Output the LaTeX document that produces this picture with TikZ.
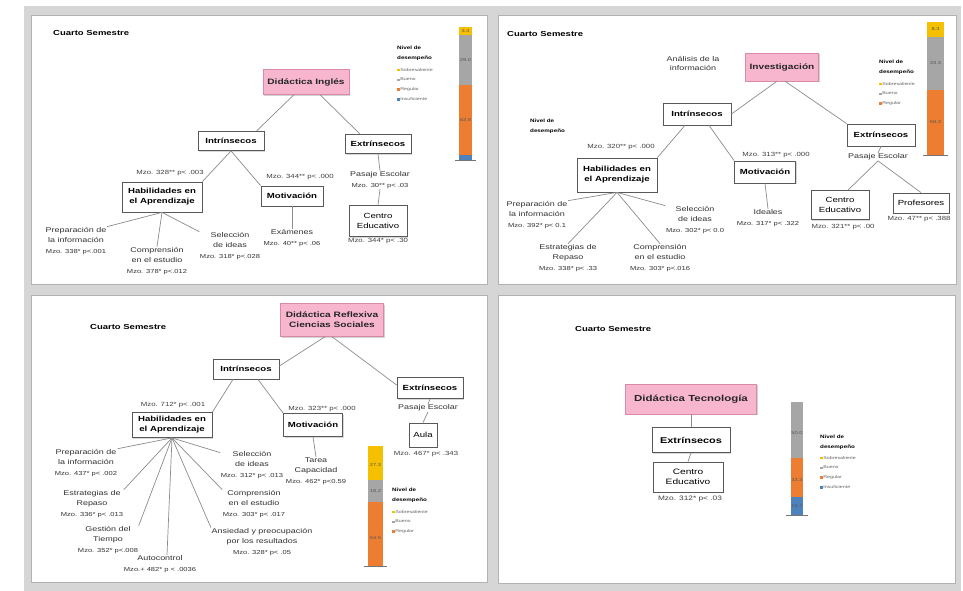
\documentclass[tikz,border=0pt]{standalone}
\usepackage{fontspec}
\setmainfont{Liberation Sans}[FakeStretch=1.3]
\usetikzlibrary{shadows}
\definecolor{pinkf}{HTML}{F7B6CE}
\definecolor{pinkd}{HTML}{D98AA8}
\definecolor{framec}{HTML}{D6D6D6}
\definecolor{barY}{HTML}{F5C000}
\definecolor{barG}{HTML}{A6A6A6}
\definecolor{barO}{HTML}{ED7D31}
\definecolor{barB}{HTML}{4F81BD}
\definecolor{lnc}{HTML}{8C8C8C}
\newcommand\mzl[1]{{\fontsize{5.8}{9}\selectfont #1}}
\newcommand\sq[1]{\textcolor{#1}{\rule{2.4pt}{2.4pt}}\,}
\tikzset{
 pinkbox/.style={draw=pinkd, fill=pinkf, font=\bfseries\fontsize{7.8}{10}\selectfont, text=black!85, align=center, inner sep=2pt, drop shadow={shadow xshift=1.2pt, shadow yshift=-1.2pt, opacity=0.35}},
 cbox/.style={draw=black!65, line width=0.8pt, fill=white, font=\bfseries\fontsize{7.4}{10}\selectfont, align=center, inner sep=2pt, drop shadow={shadow xshift=1pt, shadow yshift=-1pt, opacity=0.3}},
 ebox/.style={cbox, font=\fontsize{7.4}{10}\selectfont},
 note/.style={font=\fontsize{6}{7}\selectfont, align=center, text=black!75, inner sep=0.5pt},
 lab/.style={font=\fontsize{6.9}{10.5}\selectfont, align=center, text=black!80, inner sep=0.5pt},
 ttl/.style={font=\bfseries\fontsize{7.3}{8}\selectfont, anchor=west, inner sep=0},
 ln/.style={draw=lnc, line width=0.7pt},
 legh/.style={anchor=west, align=left, inner sep=0, font=\bfseries\fontsize{4.8}{10}\selectfont},
 legi/.style={anchor=north west, align=left, inner sep=0, font=\fontsize{4.1}{9.8}\selectfont, text=black!60},
 barlab/.style={font=\fontsize{4.4}{5}\selectfont, inner sep=0, text=black!65},
}
\begin{document}
\begin{tikzpicture}[x=1pt,y=-1pt]
\useasboundingbox (0,0) rectangle (963,591);
\fill[white] (0,0) rectangle (963,591);
% frames
\fill[framec] (24,6) rectangle (961,591);
\fill[white] (31,15) rectangle (487,284);
\fill[white] (498,15) rectangle (956,284);
\fill[white] (31,295) rectangle (487,582);
\fill[white] (498,295) rectangle (955,583);
\draw[black!30, line width=0.5pt] (31,15) rectangle (487,284) (498,15) rectangle (956,284) (31,295) rectangle (487,582) (498,295) rectangle (955,583);

% ================= Panel A =================
\node[ttl] (aT) at (53,33) {Cuarto Semestre};
\node[pinkbox, minimum width=86pt, minimum height=25pt] (aP) at (306,82) {Didáctica Inglés};
\node[cbox, minimum width=66pt, minimum height=19pt] (aI) at (231,141) {Intrínsecos};
\node[cbox, minimum width=66pt, minimum height=19pt] (aE) at (378,144) {Extrínsecos};
\node[cbox, minimum width=80pt, minimum height=30pt] (aH) at (162,197) {Habilidades en\\el Aprendizaje};
\node[cbox, minimum width=62pt, minimum height=20pt] (aM) at (292,196) {Motivación};
\node[note] (aHm) at (170,173) {Mzo. 328** p< .003};
\node[note] (aMm) at (300,177) {Mzo. 344** p< .000};
\node[lab] (aPE) at (380,180) {Pasaje Escolar\\\mzl{Mzo. 30** p< .03}};
\node[ebox, minimum width=58pt, minimum height=31pt] (aC) at (378,221) {Centro\\Educativo};
\node[note] (aCm) at (378,241) {Mzo. 344* p< .30};
\node[lab] (aX) at (292,238) {Exámenes\\\mzl{Mzo. 40** p< .06}};
\node[lab] (a1) at (76,241) {Preparación de\\la información\\\mzl{Mzo. 338* p<.001}};
\node[lab] (a2) at (157,261) {Comprensión\\en el estudio\\\mzl{Mzo. 378* p<.012}};
\node[lab] (a3) at (230,246) {Selección\\de ideas\\\mzl{Mzo. 318* p<.028}};
\draw[ln] ([xshift=-12pt]aP.south) -- ([xshift=-8pt]aI.north east);
\draw[ln] ([xshift=14pt]aP.south) -- ([xshift=-18pt]aE.north);
\draw[ln] (aI.south) -- (aH.north east);
\draw[ln] (aI.south) -- (aM.north west);
\draw[ln] (aE.south) -- (aPE.north);
\draw[ln] (aPE.south) -- (aC.north);
\draw[ln] (aM.south) -- (aX.north);
\draw[ln] (aH.south) -- (a1.north east);
\draw[ln] (aH.south) -- (a2.north);
\draw[ln] (aH.south) -- (a3.north west);
% bar A
\fill[barY] (459,27) rectangle (472,35);
\fill[barG] (459,35) rectangle (472,85);
\fill[barO] (459,85) rectangle (472,155);
\fill[barB] (459,155) rectangle (472,160);
\draw[barG!70!black, line width=0.8pt] (455,160) -- (476,160);
\node[barlab] (aB1) at (465.5,31) {3.4};
\node[barlab] (aB2) at (465.5,60) {29.0};
\node[barlab] (aB3) at (465.5,120) {63.8};
\node[legh] (aLh) at (397,53) {Nivel de\\desempeño};
\node[legi] (aLi) at (397,68) {\sq{barY}Sobresaliente\\\sq{barG}Bueno\\\sq{barO}Regular\\\sq{barB}Insuficiente};

% ================= Panel B =================
\node[ttl] (bT) at (507,34) {Cuarto Semestre};
\node[lab, font=\fontsize{6.9}{9}\selectfont] (bA) at (693,63) {Análisis de la\\información};
\node[pinkbox, minimum width=73pt, minimum height=28pt] (bP) at (782,67) {Investigación};
\node[legh] (bN) at (530,126) {Nivel de\\desempeño};
\node[cbox, minimum width=68pt, minimum height=22pt] (bI) at (697,114) {Intrínsecos};
\node[cbox, minimum width=68pt, minimum height=22pt] (bE) at (881,135) {Extrínsecos};
\node[note] (bHm) at (621,147) {Mzo. 320** p< .000};
\node[note] (bMm) at (776,155) {Mzo. 313** p< .000};
\node[cbox, minimum width=80pt, minimum height=34pt] (bH) at (617,175) {Habilidades en\\el Aprendizaje};
\node[cbox, minimum width=61pt, minimum height=22pt] (bM) at (765,172) {Motivación};
\node[lab] (bPE) at (878,157) {Pasaje Escolar};
\node[ebox, minimum width=58pt, minimum height=29pt] (bC) at (840,205) {Centro\\Educativo};
\node[ebox, minimum width=56pt, minimum height=20pt] (bR) at (921,203) {Profesores};
\node[note] (bCm) at (843,227) {Mzo. 321** p< .00};
\node[note] (bRm) at (919,219) {Mzo. 47** p< .388};
\node[lab] (bX) at (768,218) {Ideales\\\mzl{Mzo. 317* p< .322}};
\node[lab] (b1) at (537,215) {Preparación de\\la información\\\mzl{Mzo. 392* p< 0.1}};
\node[lab] (b2) at (568,258) {Estrategias de\\Repaso\\\mzl{Mzo. 338* p< .33}};
\node[lab] (b3) at (660,258) {Comprensión\\en el estudio\\\mzl{Mzo. 303* p<.016}};
\node[lab] (b4) at (695,220) {Selección\\de ideas\\\mzl{Mzo. 302* p< 0.0}};
\draw[ln] ([xshift=-5pt]bP.south) -- (bI.east);
\draw[ln] ([xshift=3pt]bP.south) -- (bE.north west);
\draw[ln] ([xshift=-12pt]bI.south) -- (bH.north east);
\draw[ln] ([xshift=12pt]bI.south) -- (bM.north west);
\draw[ln] (bE.south) -- (bPE.north);
\draw[ln] (bPE.south) -- ([xshift=8pt]bC.north);
\draw[ln] (bPE.south) -- (bR.north);
\draw[ln] (bM.south) -- (bX.north);
\draw[ln] (bH.south) -- (b1.north east);
\draw[ln] (bH.south) -- (b2.north);
\draw[ln] (bH.south) -- (b3.north);
\draw[ln] (bH.south) -- (b4.north west);
% bar B
\fill[barY] (927,22) rectangle (944,37);
\fill[barG] (927,37) rectangle (944,90);
\fill[barO] (927,90) rectangle (944,155);
\draw[barG!70!black, line width=0.8pt] (923,155.5) -- (948,155.5);
\node[barlab] (bB1) at (935.5,29) {8.3};
\node[barlab] (bB2) at (935.5,63) {33.3};
\node[barlab] (bB3) at (935.5,122) {58.3};
\node[legh] (bLh) at (879,67.5) {Nivel de\\desempeño};
\node[legi] (bLi) at (879,82) {\sq{barY}Sobresaliente\\\sq{barG}Bueno\\\sq{barO}Regular};

% ================= Panel C =================
\node[ttl] (cT) at (90,327) {Cuarto Semestre};
\node[pinkbox, minimum width=103pt, minimum height=33pt] (cP) at (332,320) {Didáctica Reflexiva\\Ciencias Sociales};
\node[cbox, minimum width=66pt, minimum height=20pt] (cI) at (246,369) {Intrínsecos};
\node[cbox, minimum width=66pt, minimum height=21pt] (cE) at (430,388) {Extrínsecos};
\node[note] (cHm) at (173,405) {Mzo. 712* p< .001};
\node[note] (cMm) at (322,409) {Mzo. 323** p< .000};
\node[cbox, minimum width=80pt, minimum height=25pt] (cH) at (172,425) {Habilidades en\\el Aprendizaje};
\node[cbox, minimum width=59pt, minimum height=23pt] (cM) at (313,425) {Motivación};
\node[lab] (cPE) at (428,408) {Pasaje Escolar};
\node[ebox, minimum width=28pt, minimum height=24pt] (cA) at (423,435) {Aula};
\node[note] (cAm) at (426,454) {Mzo. 467* p< .343};
\node[lab] (cX) at (316,471) {Tarea\\Capacidad\\\mzl{Mzo. 462* p<0.59}};
\draw[ln] ([xshift=-7pt]cP.south) -- ([yshift=3pt]cI.east);
\draw[ln] (cP.south) -- ([yshift=3pt]cE.west);
\draw[ln] ([xshift=-13pt]cI.south) -- (cH.north east);
\draw[ln] ([xshift=12pt]cI.south) -- (cM.north west);
\draw[ln] (cE.south) -- (cPE.north);
\draw[ln] (cPE.south) -- (cA.north);
\draw[ln] (cM.south) -- (cX.north);
\node[lab] (c1) at (86,463) {Preparación de\\la información\\\mzl{Mzo. 437* p< .002}};
\node[lab] (c2) at (92,504) {Estrategias de\\Repaso\\\mzl{Mzo. 336* p< .013}};
\node[lab] (c3) at (108,540) {Gestión del\\Tiempo\\\mzl{Mzo. 352* p<.008}};
\node[lab] (c4) at (160,564) {Autocontrol\\\mzl{Mzo.+ 482* p < .0036}};
\node[lab] (c5) at (262,542) {Ansiedad y preocupación\\por los resultados\\\mzl{Mzo. 328* p< .05}};
\node[lab] (c6) at (254,504) {Comprensión\\en el estudio\\\mzl{Mzo. 303* p< .017}};
\node[lab] (c7) at (252,465) {Selección\\de ideas\\\mzl{Mzo. 312* p< .013}};
\draw[ln] (cH.south) -- (c1.north east);
\draw[ln] (cH.south) -- (c2.north east);
\draw[ln] (cH.south) -- (c3.north east);
\draw[ln] (cH.south) -- ([xshift=7pt]c4.north);
\draw[ln] (cH.south) -- (c5.north west);
\draw[ln] (cH.south) -- (c6.north west);
\draw[ln] (cH.south) -- ([yshift=-2pt]c7.north west);
% bar C
\fill[barY] (368,446) rectangle (383,480);
\fill[barG] (368,480) rectangle (383,502);
\fill[barO] (368,502) rectangle (383,566);
\draw[barG!70!black, line width=0.8pt] (364,566) -- (387,566);
\node[barlab] (cB1) at (375.5,465) {27.3};
\node[barlab] (cB2) at (375.5,491) {18.2};
\node[barlab] (cB3) at (375.5,538) {54.5};
\node[legh] (cLh) at (392,495.5) {Nivel de\\desempeño};
\node[legi] (cLi) at (392,510) {\sq{barY}Sobresaliente\\\sq{barG}Bueno\\\sq{barO}Regular};

% ================= Panel D =================
\node[ttl] (dT) at (575,329) {Cuarto Semestre};
\node[pinkbox, minimum width=131pt, minimum height=30pt, font=\bfseries\fontsize{8.8}{10}\selectfont] (dP) at (691,399) {Didáctica Tecnología};
\node[cbox, minimum width=78pt, minimum height=25pt, font=\bfseries\fontsize{8.4}{9}\selectfont] (dE) at (691,440) {Extrínsecos};
\node[ebox, minimum width=70pt, minimum height=30pt, font=\fontsize{7.8}{10}\selectfont] (dC) at (688,477) {Centro\\Educativo};
\node[note, font=\fontsize{6.4}{7}\selectfont] (dCm) at (690,499) {Mzo. 312* p< .03};
\draw[ln] (dP.south) -- (dE.north);
\draw[ln] (dE.south) -- (dC.north);
% bar D
\fill[barG] (791,402) rectangle (803,458);
\fill[barO] (791,458) rectangle (803,497);
\fill[barB] (791,497) rectangle (803,515);
\draw[barG!70!black, line width=0.8pt] (786,515) -- (808,515);
\node[barlab] (dB1) at (797,433) {50.0};
\node[barlab] (dB2) at (797,480) {33.3};
\node[barlab] (dB3) at (797,506) {16.7};
\node[legh] (dLh) at (820,442) {Nivel de\\desempeño};
\node[legi] (dLi) at (820,456) {\sq{barY}Sobresaliente\\\sq{barG}Bueno\\\sq{barO}Regular\\\sq{barB}Insuficiente};
\end{tikzpicture}
\end{document}
